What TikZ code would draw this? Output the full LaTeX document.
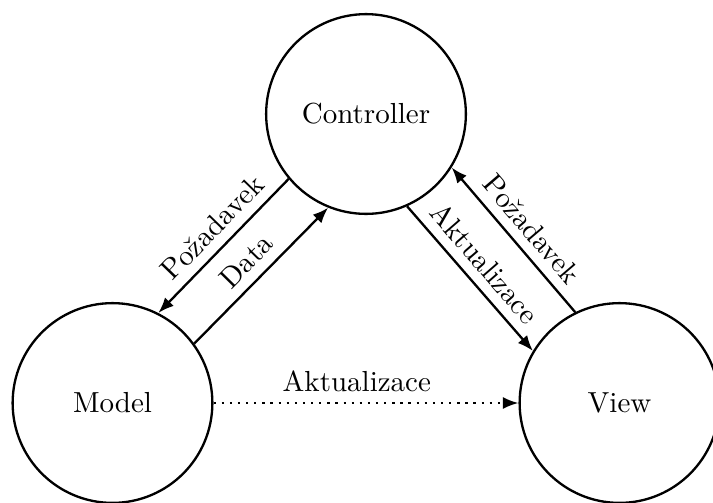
\documentclass[tikz,border=0pt]{standalone}
\usetikzlibrary{arrows.meta}
\begin{document}
\begin{tikzpicture}[x=0.01212cm, y=-0.01212cm,
  part/.style={circle, draw, thick, minimum size=2.42cm, inner sep=0pt},
  flow/.style={thick, -{Latex[length=5.4pt, width=4.2pt]}},
  lbl/.style={sloped, above}]
  \useasboundingbox (0,0) rectangle (713,502);

  % the three parts of the pattern
  \node[part] (ctrl)  at (366,114)   {Controller};
  \node[part] (model) at (112.5,403) {Model};
  \node[part] (view)  at (619.5,403) {View};

  % controller <-> model
  \draw[flow] (ctrl.220.4) -- node[lbl, pos=0.47] {Požadavek} (model.63.6);
  \draw[flow] (model.36) -- node[lbl] {Data} (ctrl.248.4);

  % controller <-> view
  \draw[flow] (ctrl.294.7) -- node[lbl, pos=0.49] {Aktualizace} (view.149.7);
  \draw[flow] (view.116.4) -- node[lbl, pos=0.48] {Požadavek} (ctrl.328.1);

  % model notifies view
  \draw[flow, dotted] (model.east) -- node[above, pos=0.47] {Aktualizace} (view.west);
\end{tikzpicture}
\end{document}
